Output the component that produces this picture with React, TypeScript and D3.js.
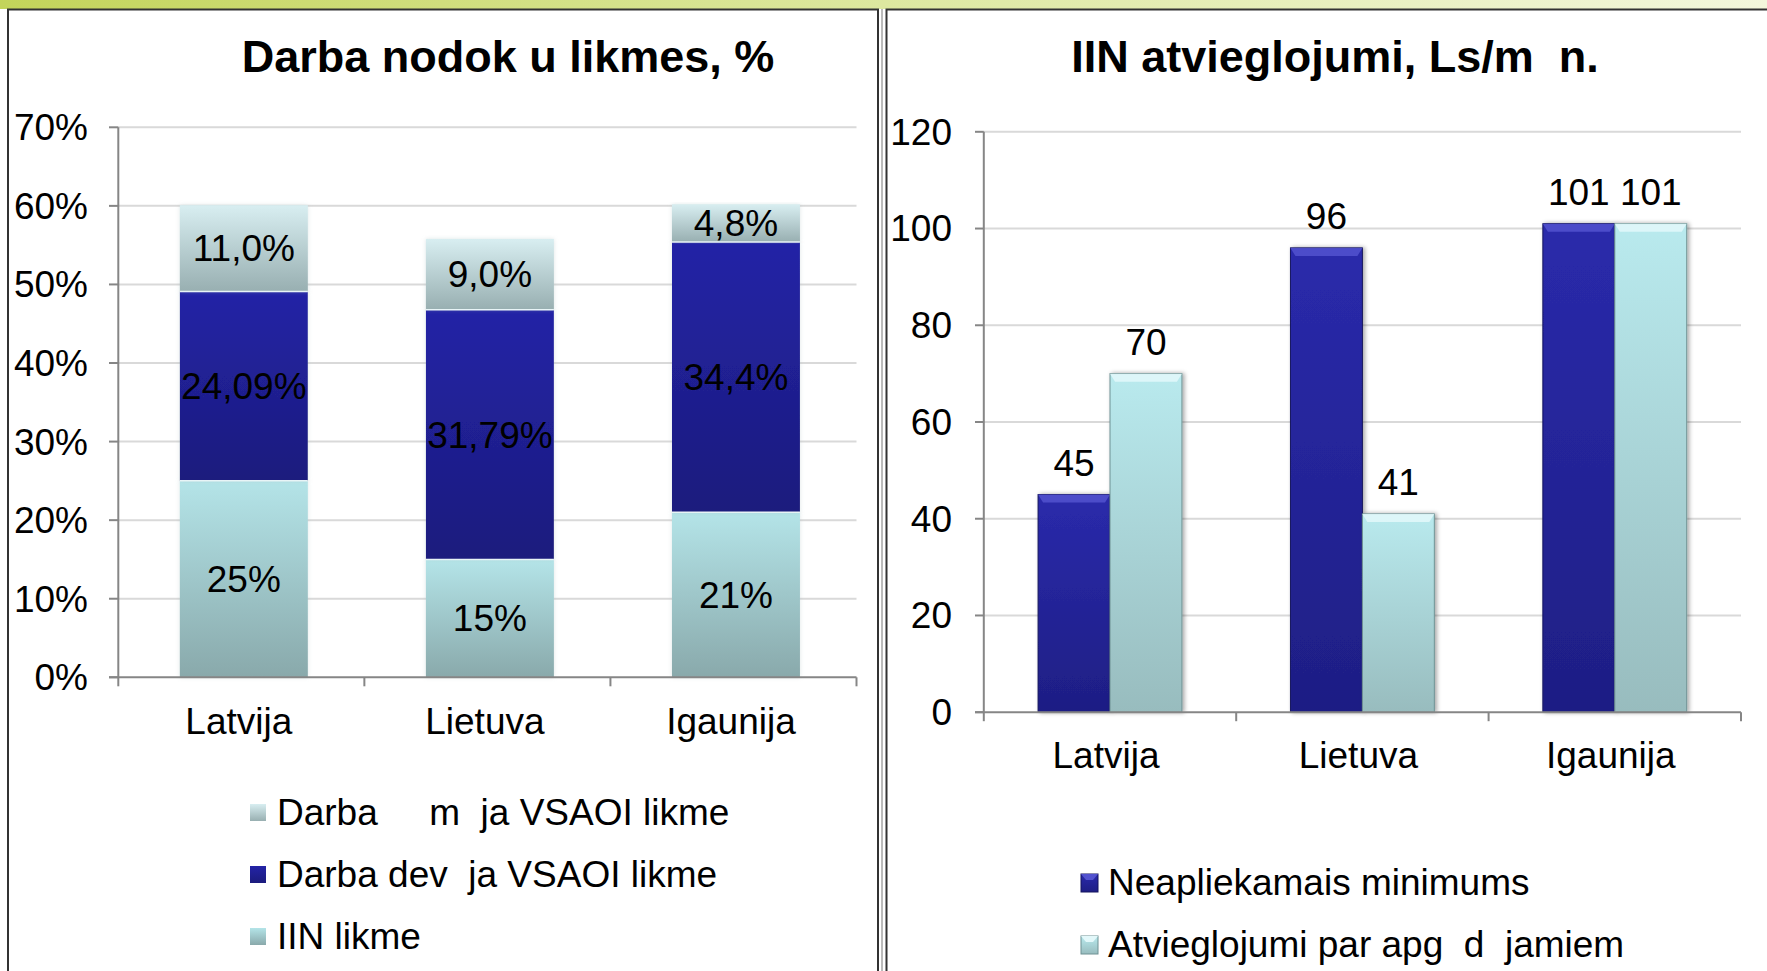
import React from 'react';
import * as d3 from 'd3';

const categories = ['Latvija', 'Lietuva', 'Igaunija'];
// Left chart (stacked %, bottom to top)
const iinRate = [25, 15, 21];
const employerRate = [24.09, 31.79, 34.4];
const employeeRate = [11.0, 9.0, 4.8];
const iinLabels = ['25%', '15%', '21%'];
const employerLabels = ['24,09%', '31,79%', '34,4%'];
const employeeLabels = ['11,0%', '9,0%', '4,8%'];
const leftTicks = [0, 10, 20, 30, 40, 50, 60, 70];
const leftLegend = ['Darba     m  ja VSAOI likme', 'Darba dev  ja VSAOI likme', 'IIN likme'];
const leftTitle = 'Darba nodok u likmes, %';

// Right chart (grouped)
const nonTaxable = [45, 96, 101];
const dependents = [70, 41, 101];
const rightTicks = [0, 20, 40, 60, 80, 100, 120];
const rightLegend = ['Neapliekamais minimums', 'Atvieglojumi par apg  d  jamiem'];
const rightTitle = 'IIN atvieglojumi, Ls/m  n.';

const FONT = '"Liberation Sans", Arial, Helvetica, sans-serif';
const FS = 37;

export default function App() {
  const W = 1767, H = 971;

  // ---------- Left chart ----------
  const LX0 = 118.3, LX1 = 856.5;
  const lx = d3.scaleBand<string>().domain(categories).range([LX0 + 2.5, LX1 + 2.5]).paddingInner(0.48).paddingOuter(0.24);
  const ly = d3.scaleLinear().domain([0, 70]).range([677.3, 127.3]);
  const stackRows = categories.map((c, i) => ({ cat: c, iin: iinRate[i], emp: employerRate[i], ee: employeeRate[i] }));
  const stack = d3.stack<any>().keys(['iin', 'emp', 'ee'])(stackRows);
  const stackFill = ['url(#gIIN)', 'url(#gEmp)', 'url(#gEE)'];
  const stackLabels = [iinLabels, employerLabels, employeeLabels];
  const lStep = (LX1 - LX0) / categories.length;

  // ---------- Right chart ----------
  const rx = d3.scaleBand<string>().domain(categories).range([983.8, 1741]).paddingInner(0.43).paddingOuter(0.215);
  const rx2 = d3.scaleBand<string>().domain(['a', 'b']).range([0, rx.bandwidth()]);
  const ry = d3.scaleLinear().domain([0, 120]).range([712.2, 131.8]);
  const rStep = rx.step();
  const series = [
    { key: 'a', values: nonTaxable, fill: 'url(#gDark)', bevel: '#5252cf', stroke: '#15155e' },
    { key: 'b', values: dependents, fill: 'url(#gLight)', bevel: '#e3f8fa', stroke: '#6f9294' },
  ];

  const leftLegendFill = ['url(#gEE)', 'url(#gEmp)', 'url(#gIIN)'];
  const rightLegendFill = ['url(#gDark)', 'url(#gLight)'];

  return (
    <svg width={W} height={H} style={{ position: 'absolute', left: 0, top: 0, background: '#fff' }} fontFamily={FONT}>
      <defs>
        <linearGradient id="gBand" x1="0" x2="1" y1="0" y2="0">
          <stop offset="0" stopColor="#c3d45a" />
          <stop offset="0.5" stopColor="#dde8a0" />
          <stop offset="1" stopColor="#f3f7dc" />
        </linearGradient>
        <linearGradient id="gIIN" x1="0" x2="0" y1="0" y2="1">
          <stop offset="0" stopColor="#b4e4e8" />
          <stop offset="1" stopColor="#89a9ab" />
        </linearGradient>
        <linearGradient id="gEmp" x1="0" x2="0" y1="0" y2="1">
          <stop offset="0" stopColor="#2424a6" />
          <stop offset="1" stopColor="#1b1b7d" />
        </linearGradient>
        <linearGradient id="gEE" x1="0" x2="0" y1="0" y2="1">
          <stop offset="0" stopColor="#d8eef1" />
          <stop offset="1" stopColor="#98afb1" />
        </linearGradient>
        <linearGradient id="gDark" x1="0" x2="0" y1="0" y2="1">
          <stop offset="0" stopColor="#2a2aab" />
          <stop offset="1" stopColor="#1e1e84" />
        </linearGradient>
        <linearGradient id="gLight" x1="0" x2="0" y1="0" y2="1">
          <stop offset="0" stopColor="#b9eaee" />
          <stop offset="1" stopColor="#98bcbe" />
        </linearGradient>
        <filter id="shadow" x="-20%" y="-5%" width="140%" height="110%">
          <feDropShadow dx="2" dy="0" stdDeviation="2" floodColor="#000" floodOpacity="0.35" />
        </filter>
        <filter id="glow" x="-10%" y="-5%" width="120%" height="110%">
          <feDropShadow dx="0" dy="0" stdDeviation="2" floodColor="#9fb8ba" floodOpacity="0.35" />
        </filter>
      </defs>

      {/* top band */}
      <rect x={0} y={0} width={W} height={9} fill="url(#gBand)" />
      {/* panels */}
      <rect x={8} y={9.5} width={870} height={H} fill="#fff" stroke="#333" strokeWidth={2} />
      <rect x={886.5} y={9.5} width={W} height={H} fill="#fff" stroke="#333" strokeWidth={2} />
      <line x1={882} x2={882} y1={9} y2={H} stroke="#777" strokeWidth={1} />

      {/* ===== Left chart ===== */}
      <text x={508} y={72} textAnchor="middle" fontSize={45} fontWeight="bold">{leftTitle}</text>
      {leftTicks.map(t => (
        <g key={t}>
          {t > 0 && <line x1={LX0} x2={LX1} y1={ly(t)} y2={ly(t)} stroke="#d9d9d9" strokeWidth={2} />}
          <line x1={109} x2={LX0} y1={ly(t)} y2={ly(t)} stroke="#868686" strokeWidth={2} />
          <text x={88} y={ly(t)} dy="0.35em" textAnchor="end" fontSize={FS}>{t}%</text>
        </g>
      ))}
      {stack.map((layer, li) => (
        <g key={li}>
          {layer.map((d, i) => {
            const x = lx(categories[i])!;
            const y0 = ly(d[0]), y1 = ly(d[1]);
            return (
              <g key={i}>
                <rect x={x} y={y1} width={lx.bandwidth()} height={y0 - y1} fill={stackFill[li]} filter="url(#glow)" />
                {li > 0 && <line x1={x} x2={x + lx.bandwidth()} y1={y0} y2={y0} stroke="#e8f4f6" strokeWidth={1.5} />}
              </g>
            );
          })}
        </g>
      ))}
      {stack.map((layer, li) => (
        <g key={'l' + li}>
          {layer.map((d, i) => (
            <text key={i} x={lx(categories[i])! + lx.bandwidth() / 2} y={(ly(d[0]) + ly(d[1])) / 2} dy="0.35em" textAnchor="middle" fontSize={FS}>
              {stackLabels[li][i]}
            </text>
          ))}
        </g>
      ))}
      {/* axes */}
      <line x1={LX0} x2={LX0} y1={ly(70)} y2={ly(0)} stroke="#868686" strokeWidth={2} />
      <line x1={109} x2={LX1} y1={ly(0)} y2={ly(0)} stroke="#868686" strokeWidth={2} />
      {[0, 1, 2, 3].map(k => (
        <line key={k} x1={LX0 + k * lStep} x2={LX0 + k * lStep} y1={ly(0)} y2={ly(0) + 9} stroke="#868686" strokeWidth={2} />
      ))}
      {categories.map(c => (
        <text key={c} x={lx(c)! + lx.bandwidth() / 2 - 5} y={721} dy="0.35em" textAnchor="middle" fontSize={FS}>{c}</text>
      ))}
      {leftLegend.map((name, i) => (
        <g key={name}>
          <rect x={250} y={804 + i * 62} width={16} height={17} fill={leftLegendFill[i]} />
          <text x={277} y={812.5 + i * 62} dy="0.35em" fontSize={FS} style={{ whiteSpace: 'pre' }}>{name}</text>
        </g>
      ))}

      {/* ===== Right chart ===== */}
      <text x={1335} y={72} textAnchor="middle" fontSize={45} fontWeight="bold" style={{ whiteSpace: 'pre' }}>{rightTitle}</text>
      {rightTicks.map(t => (
        <g key={t}>
          {t > 0 && <line x1={983.8} x2={1741} y1={ry(t)} y2={ry(t)} stroke="#d9d9d9" strokeWidth={2} />}
          <line x1={975} x2={983.8} y1={ry(t)} y2={ry(t)} stroke="#868686" strokeWidth={2} />
          <text x={952} y={ry(t)} dy="0.35em" textAnchor="end" fontSize={FS}>{t}</text>
        </g>
      ))}
      {series.map(s => (
        <g key={s.key}>
          {s.values.map((v, i) => {
            const x = rx(categories[i])! + rx2(s.key)!;
            const w = rx2.bandwidth();
            const y = ry(v);
            const h = ry(0) - y;
            return (
              <g key={i}>
                <rect x={x} y={y} width={w} height={h} fill={s.fill} stroke={s.stroke} strokeWidth={1} filter="url(#shadow)" />
                <polygon points={`${x},${y} ${x + w},${y} ${x + w - 5},${y + 8} ${x + 5},${y + 8}`} fill={s.bevel} opacity={0.85} />
                <text x={x + w / 2} y={y - 19} textAnchor="middle" fontSize={FS}>{v}</text>
              </g>
            );
          })}
        </g>
      ))}
      <line x1={983.8} x2={983.8} y1={ry(120)} y2={ry(0)} stroke="#868686" strokeWidth={2} />
      <line x1={975} x2={1741} y1={ry(0)} y2={ry(0)} stroke="#868686" strokeWidth={2} />
      {[0, 1, 2, 3].map(k => (
        <line key={k} x1={983.8 + k * rStep} x2={983.8 + k * rStep} y1={ry(0)} y2={ry(0) + 9} stroke="#868686" strokeWidth={2} />
      ))}
      {categories.map(c => (
        <text key={c} x={rx(c)! + rx.bandwidth() / 2 - 4} y={755} dy="0.35em" textAnchor="middle" fontSize={FS}>{c}</text>
      ))}
      {rightLegend.map((name, i) => (
        <g key={name}>
          <rect x={1081} y={874 + i * 62} width={17} height={18} fill={rightLegendFill[i]} stroke={series[i].stroke} strokeWidth={1} />
          <polygon points={`${1081},${874 + i * 62} ${1098},${874 + i * 62} ${1093},${880 + i * 62} ${1086},${880 + i * 62}`} fill={series[i].bevel} />
          <text x={1108} y={882 + i * 62} dy="0.35em" fontSize={FS} style={{ whiteSpace: 'pre' }}>{name}</text>
        </g>
      ))}
    </svg>
  );
}
